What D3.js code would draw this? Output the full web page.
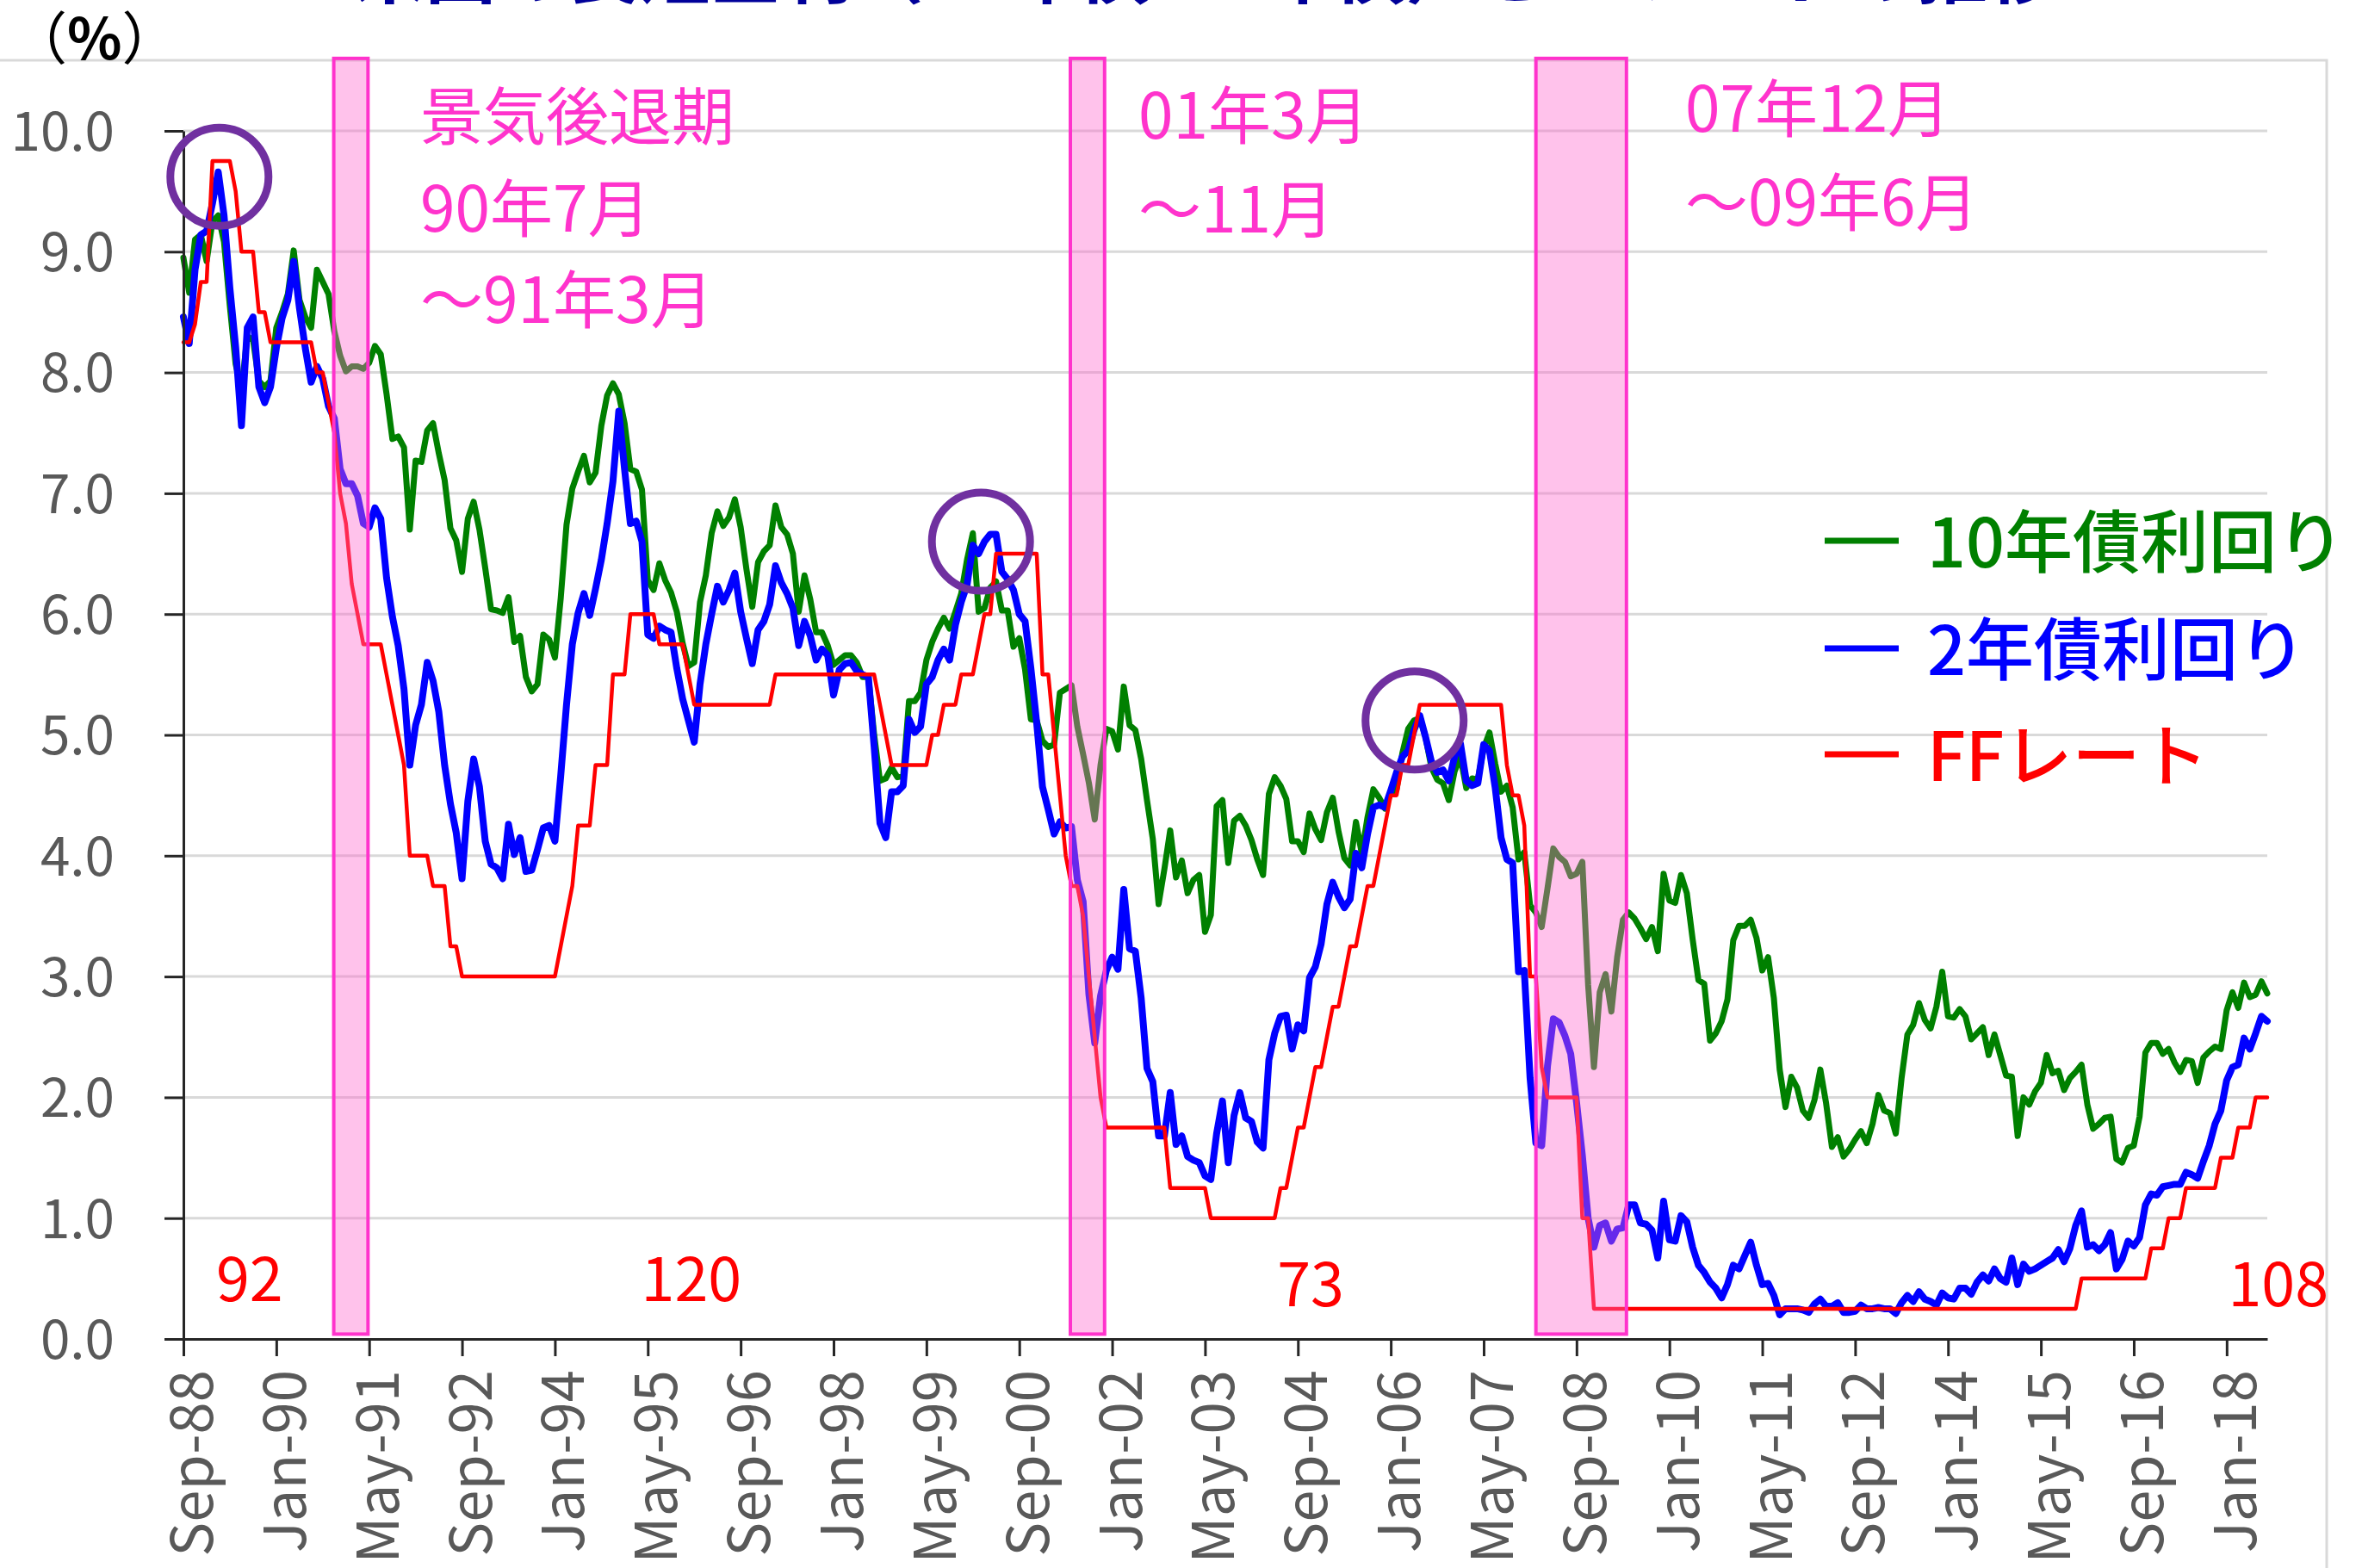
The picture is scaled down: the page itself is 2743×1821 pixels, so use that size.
<!DOCTYPE html>
<html lang="ja">
<head>
<meta charset="utf-8">
<title>米国の長短金利とFFレートの推移</title>
<script src="https://cdn.jsdelivr.net/npm/d3@7"></script>
<style>
    body { margin: 0; background: #fff; }
    svg { display: block; font-family: "Noto Sans CJK JP", "Noto Sans", sans-serif; }
    .grid line { stroke: #d9d9d9; stroke-width: 3; }
    .axis path, .axis line { stroke: #262626; stroke-width: 3; }
    .axis text { fill: #595959; font-family: "Noto Sans CJK JP", sans-serif; }
</style>
</head>
<body>
<script>
// monthly data, first point = Sep-88, last point = Aug-18
var tenYear = [
    8.95, 8.66, 9.10, 9.14, 8.92, 9.25, 9.30, 9.08, 8.55, 8.07, 7.85, 8.30,
    8.27, 7.93, 7.88, 7.93, 8.37, 8.50, 8.65, 9.01, 8.60, 8.46, 8.37, 8.85,
    8.75, 8.65, 8.34, 8.14, 8.01, 8.05, 8.05, 8.03, 8.08, 8.22, 8.15, 7.82,
    7.45, 7.47, 7.38, 6.70, 7.27, 7.26, 7.52, 7.58, 7.33, 7.11, 6.71, 6.61,
    6.35, 6.79, 6.93, 6.70, 6.38, 6.04, 6.03, 6.01, 6.14, 5.77, 5.82, 5.48,
    5.36, 5.42, 5.83, 5.79, 5.64, 6.13, 6.74, 7.04, 7.18, 7.31, 7.09, 7.17,
    7.56, 7.81, 7.91, 7.82, 7.58, 7.20, 7.18, 7.03, 6.28, 6.20, 6.42, 6.28,
    6.18, 6.02, 5.76, 5.57, 5.60, 6.10, 6.32, 6.67, 6.85, 6.73, 6.80, 6.95,
    6.72, 6.37, 6.06, 6.43, 6.52, 6.57, 6.90, 6.72, 6.66, 6.50, 6.02, 6.32,
    6.12, 5.85, 5.85, 5.74, 5.58, 5.62, 5.66, 5.66, 5.60, 5.48, 5.48, 5.00,
    4.62, 4.64, 4.73, 4.65, 4.66, 5.28, 5.28, 5.35, 5.62, 5.77, 5.88, 5.97,
    5.88, 6.02, 6.17, 6.45, 6.67, 6.02, 6.05, 6.22, 6.27, 6.03, 6.03, 5.73,
    5.80, 5.54, 5.13, 5.12, 4.95, 4.90, 4.92, 5.35, 5.38, 5.41, 5.07, 4.84,
    4.60, 4.30, 4.75, 5.05, 5.03, 4.88, 5.40, 5.08, 5.04, 4.80, 4.46, 4.14,
    3.60, 3.89, 4.21, 3.82, 3.96, 3.69, 3.80, 3.84, 3.37, 3.51, 4.41, 4.46,
    3.94, 4.29, 4.33, 4.25, 4.13, 3.97, 3.84, 4.51, 4.65, 4.58, 4.47, 4.12,
    4.12, 4.03, 4.35, 4.22, 4.13, 4.36, 4.48, 4.20, 3.98, 3.92, 4.28, 4.02,
    4.32, 4.55, 4.48, 4.39, 4.52, 4.55, 4.85, 5.05, 5.12, 5.14, 4.98, 4.73,
    4.63, 4.60, 4.46, 4.70, 4.82, 4.56, 4.64, 4.63, 4.89, 5.02, 4.76, 4.53,
    4.58, 4.40, 3.97, 4.03, 3.59, 3.53, 3.41, 3.73, 4.06, 3.99, 3.95, 3.83,
    3.85, 3.95, 2.93, 2.25, 2.87, 3.02, 2.71, 3.16, 3.47, 3.53, 3.48, 3.40,
    3.31, 3.41, 3.21, 3.85, 3.63, 3.61, 3.84, 3.69, 3.31, 2.97, 2.94, 2.47,
    2.53, 2.63, 2.81, 3.30, 3.42, 3.42, 3.47, 3.32, 3.05, 3.16, 2.82, 2.23,
    1.92, 2.17, 2.08, 1.89, 1.83, 1.98, 2.23, 1.95, 1.59, 1.67, 1.51, 1.57,
    1.65, 1.72, 1.62, 1.78, 2.02, 1.89, 1.87, 1.70, 2.16, 2.52, 2.60, 2.78,
    2.64, 2.57, 2.75, 3.04, 2.67, 2.66, 2.73, 2.67, 2.48, 2.53, 2.58, 2.35,
    2.52, 2.35, 2.18, 2.17, 1.68, 2.00, 1.94, 2.05, 2.12, 2.35, 2.20, 2.22,
    2.06, 2.16, 2.21, 2.27, 1.94, 1.74, 1.78, 1.83, 1.84, 1.49, 1.46, 1.58,
    1.60, 1.84, 2.37, 2.45, 2.45, 2.36, 2.40, 2.29, 2.21, 2.31, 2.30, 2.12,
    2.33, 2.38, 2.42, 2.40, 2.72, 2.87, 2.74, 2.95, 2.83, 2.85, 2.96, 2.86
];

var twoYear = [
    8.46, 8.24, 8.85, 9.14, 9.17, 9.40, 9.66, 9.30, 8.70, 8.21, 7.56, 8.37,
    8.46, 7.88, 7.75, 7.88, 8.20, 8.45, 8.60, 8.92, 8.53, 8.20, 7.92, 8.05,
    7.95, 7.72, 7.62, 7.20, 7.08, 7.08, 6.98, 6.75, 6.72, 6.88, 6.79, 6.30,
    5.98, 5.74, 5.38, 4.75, 5.08, 5.25, 5.60, 5.45, 5.19, 4.75, 4.43, 4.19,
    3.81, 4.45, 4.80, 4.57, 4.12, 3.93, 3.90, 3.81, 4.26, 4.01, 4.15, 3.87,
    3.88, 4.05, 4.23, 4.25, 4.12, 4.66, 5.25, 5.75, 6.01, 6.17, 5.99, 6.21,
    6.45, 6.75, 7.10, 7.68, 7.20, 6.75, 6.77, 6.60, 5.83, 5.80, 5.90, 5.87,
    5.85, 5.55, 5.30, 5.12, 4.94, 5.42, 5.75, 6.00, 6.23, 6.10, 6.20, 6.34,
    6.02, 5.80, 5.59, 5.87, 5.94, 6.08, 6.40, 6.26, 6.17, 6.05, 5.74, 5.94,
    5.82, 5.62, 5.71, 5.66, 5.33, 5.54, 5.59, 5.60, 5.53, 5.50, 5.48, 4.90,
    4.27, 4.15, 4.53, 4.53, 4.58, 5.13, 5.02, 5.07, 5.42, 5.48, 5.62, 5.71,
    5.62, 5.91, 6.10, 6.24, 6.57, 6.50, 6.60, 6.66, 6.66, 6.35, 6.29, 6.20,
    6.00, 5.94, 5.55, 5.10, 4.57, 4.38, 4.18, 4.28, 4.23, 4.24, 3.80, 3.62,
    2.85, 2.45, 2.84, 3.05, 3.16, 3.06, 3.72, 3.23, 3.21, 2.82, 2.24, 2.13,
    1.68, 1.68, 2.04, 1.61, 1.68, 1.51, 1.48, 1.46, 1.35, 1.32, 1.70, 1.97,
    1.46, 1.85, 2.04, 1.83, 1.80, 1.63, 1.58, 2.31, 2.53, 2.67, 2.68, 2.40,
    2.60, 2.55, 2.99, 3.08, 3.27, 3.60, 3.78, 3.66, 3.57, 3.64, 4.02, 3.90,
    4.18, 4.40, 4.42, 4.40, 4.54, 4.69, 4.82, 4.87, 5.04, 5.16, 4.98, 4.78,
    4.69, 4.71, 4.62, 4.82, 4.93, 4.62, 4.58, 4.60, 4.92, 4.87, 4.56, 4.15,
    3.97, 3.94, 3.04, 3.05, 2.16, 1.62, 1.60, 2.26, 2.65, 2.62, 2.51, 2.36,
    1.96, 1.52, 1.00, 0.76, 0.94, 0.96, 0.81, 0.91, 0.92, 1.11, 1.11, 0.96,
    0.95, 0.90, 0.67, 1.14, 0.82, 0.81, 1.02, 0.97, 0.76, 0.61, 0.55, 0.47,
    0.42, 0.34, 0.45, 0.61, 0.58, 0.69, 0.80, 0.61, 0.45, 0.46, 0.36, 0.20,
    0.25, 0.25, 0.25, 0.24, 0.22, 0.29, 0.33, 0.27, 0.27, 0.30, 0.22, 0.22,
    0.23, 0.28, 0.25, 0.25, 0.26, 0.25, 0.25, 0.21, 0.30, 0.36, 0.31, 0.39,
    0.33, 0.31, 0.28, 0.38, 0.34, 0.33, 0.42, 0.42, 0.37, 0.47, 0.53, 0.48,
    0.58, 0.50, 0.47, 0.67, 0.45, 0.62, 0.56, 0.58, 0.61, 0.64, 0.67, 0.74,
    0.64, 0.75, 0.94, 1.06, 0.76, 0.78, 0.73, 0.78, 0.88, 0.58, 0.66, 0.81,
    0.77, 0.84, 1.11, 1.20, 1.19, 1.26, 1.27, 1.28, 1.28, 1.38, 1.36, 1.33,
    1.47, 1.60, 1.78, 1.89, 2.14, 2.25, 2.27, 2.49, 2.40, 2.53, 2.67, 2.63
];

var ffRate = [
    8.25, 8.25, 8.40, 8.75, 8.75, 9.75, 9.75, 9.75, 9.75, 9.50, 9.00, 9.00,
    9.00, 8.50, 8.50, 8.25, 8.25, 8.25, 8.25, 8.25, 8.25, 8.25, 8.25, 8.00,
    8.00, 7.75, 7.50, 7.00, 6.75, 6.25, 6.00, 5.75, 5.75, 5.75, 5.75, 5.50,
    5.25, 5.00, 4.75, 4.00, 4.00, 4.00, 4.00, 3.75, 3.75, 3.75, 3.25, 3.25,
    3.00, 3.00, 3.00, 3.00, 3.00, 3.00, 3.00, 3.00, 3.00, 3.00, 3.00, 3.00,
    3.00, 3.00, 3.00, 3.00, 3.00, 3.25, 3.50, 3.75, 4.25, 4.25, 4.25, 4.75,
    4.75, 4.75, 5.50, 5.50, 5.50, 6.00, 6.00, 6.00, 6.00, 6.00, 5.75, 5.75,
    5.75, 5.75, 5.75, 5.50, 5.25, 5.25, 5.25, 5.25, 5.25, 5.25, 5.25, 5.25,
    5.25, 5.25, 5.25, 5.25, 5.25, 5.25, 5.50, 5.50, 5.50, 5.50, 5.50, 5.50,
    5.50, 5.50, 5.50, 5.50, 5.50, 5.50, 5.50, 5.50, 5.50, 5.50, 5.50, 5.50,
    5.25, 5.00, 4.75, 4.75, 4.75, 4.75, 4.75, 4.75, 4.75, 5.00, 5.00, 5.25,
    5.25, 5.25, 5.50, 5.50, 5.50, 5.75, 6.00, 6.00, 6.50, 6.50, 6.50, 6.50,
    6.50, 6.50, 6.50, 6.50, 5.50, 5.50, 5.00, 4.50, 4.00, 3.75, 3.75, 3.50,
    3.00, 2.50, 2.00, 1.75, 1.75, 1.75, 1.75, 1.75, 1.75, 1.75, 1.75, 1.75,
    1.75, 1.75, 1.25, 1.25, 1.25, 1.25, 1.25, 1.25, 1.25, 1.00, 1.00, 1.00,
    1.00, 1.00, 1.00, 1.00, 1.00, 1.00, 1.00, 1.00, 1.00, 1.25, 1.25, 1.50,
    1.75, 1.75, 2.00, 2.25, 2.25, 2.50, 2.75, 2.75, 3.00, 3.25, 3.25, 3.50,
    3.75, 3.75, 4.00, 4.25, 4.50, 4.50, 4.75, 4.75, 5.00, 5.25, 5.25, 5.25,
    5.25, 5.25, 5.25, 5.25, 5.25, 5.25, 5.25, 5.25, 5.25, 5.25, 5.25, 5.25,
    4.75, 4.50, 4.50, 4.25, 3.00, 3.00, 2.25, 2.00, 2.00, 2.00, 2.00, 2.00,
    2.00, 1.00, 1.00, 0.25, 0.25, 0.25, 0.25, 0.25, 0.25, 0.25, 0.25, 0.25,
    0.25, 0.25, 0.25, 0.25, 0.25, 0.25, 0.25, 0.25, 0.25, 0.25, 0.25, 0.25,
    0.25, 0.25, 0.25, 0.25, 0.25, 0.25, 0.25, 0.25, 0.25, 0.25, 0.25, 0.25,
    0.25, 0.25, 0.25, 0.25, 0.25, 0.25, 0.25, 0.25, 0.25, 0.25, 0.25, 0.25,
    0.25, 0.25, 0.25, 0.25, 0.25, 0.25, 0.25, 0.25, 0.25, 0.25, 0.25, 0.25,
    0.25, 0.25, 0.25, 0.25, 0.25, 0.25, 0.25, 0.25, 0.25, 0.25, 0.25, 0.25,
    0.25, 0.25, 0.25, 0.25, 0.25, 0.25, 0.25, 0.25, 0.25, 0.25, 0.25, 0.25,
    0.25, 0.25, 0.25, 0.50, 0.50, 0.50, 0.50, 0.50, 0.50, 0.50, 0.50, 0.50,
    0.50, 0.50, 0.50, 0.75, 0.75, 0.75, 1.00, 1.00, 1.00, 1.25, 1.25, 1.25,
    1.25, 1.25, 1.25, 1.50, 1.50, 1.50, 1.75, 1.75, 1.75, 2.00, 2.00, 2.00
];

// x axis: one label every 16 months (month offsets from Sep-88)
var tickMonths = [0, 16, 32, 48, 64, 80, 96, 112, 128, 144, 160, 176, 192, 208, 224, 240, 256, 272, 288, 304, 320, 336, 352];
var tickLabels = ["Sep-88", "Jan-90", "May-91", "Sep-92", "Jan-94", "May-95", "Sep-96", "Jan-98", "May-99", "Sep-00",
    "Jan-02", "May-03", "Sep-04", "Jan-06", "May-07", "Sep-08", "Jan-10", "May-11", "Sep-12", "Jan-14",
    "May-15", "Sep-16", "Jan-18"];
var yTicks = [0, 1, 2, 3, 4, 5, 6, 7, 8, 9, 10];

// recession shading (month offsets, as drawn) and their notes
var bandFrom = [25.9, 152.8, 233.0];
var bandTo = [31.8, 158.7, 248.6];
var bandNotes = [["景気後退期", "90年7月", "～91年3月"], ["01年3月", "～11月"], ["07年12月", "～09年6月"]];

// expansion lengths in months, and where the note sits
var expansionText = ["92", "120", "73", "108"];
var expansionMonth = [11.4, 87.5, 194.2, 360.9];
var expansionValue = [0.53, 0.53, 0.49, 0.49];

// rate peaks circled on the chart
var peakMonth = [6.2, 137.4, 212.1];
var peakValue = [9.62, 6.60, 5.12];

var seriesNames = ["10年債利回り", "2年債利回り", "FFレート"];
var seriesColors = ["#008000", "#0000ff", "#ff0000"];
var seriesWidths = [7, 8, 4.5];
var seriesData = [tenYear, twoYear, ffRate];

var w = 2743, h = 1821;
var plotLeft = 213, plotRight = 2633, plotTop = 152, plotBottom = 1555;

var x = d3.scaleLinear().domain([0, tenYear.length - 1]).range([plotLeft, plotRight]);
var y = d3.scaleLinear().domain([0, 10]).range([plotBottom, plotTop]);

var svg = d3.select("body").append("svg")
    .attr("width", w).attr("height", h);

svg.append("rect").attr("width", w).attr("height", h).attr("fill", "#fff");

// title (mostly above the visible area, as in the source)
var titleText = "米国の長短金利（10年債・2年債）とFFレートの推移";
var title = svg.append("text")
    .attr("x", 411).attr("y", 10)
    .style("font-size", "100px").style("font-weight", "bold")
    .attr("fill", "#000099")
    .text(titleText);
var tlen = title.node().getComputedTextLength();
var tfs = 100 * 1980 / tlen;
title.style("font-size", tfs + "px").attr("y", 5 - 0.1 * tfs);

// chart area border
svg.append("rect")
    .attr("x", -3).attr("y", 70).attr("width", 2705).attr("height", 1800)
    .attr("fill", "none").attr("stroke", "#d9d9d9").attr("stroke-width", 3);

// gridlines
svg.append("g").attr("class", "grid")
    .selectAll("line")
    .data(yTicks.slice(1))
    .enter()
    .append("line")
    .attr("x1", plotLeft).attr("x2", plotRight)
    .attr("y1", d => y(d)).attr("y2", d => y(d));

// series lines
var line = d3.line()
    .x((d, i) => x(i))
    .y(d => y(d));

svg.append("g")
    .selectAll("path")
    .data(seriesData)
    .enter()
    .append("path")
    .attr("d", line)
    .attr("fill", "none")
    .attr("stroke", (d, i) => seriesColors[i])
    .attr("stroke-width", (d, i) => seriesWidths[i])
    .attr("stroke-linejoin", "round")
    .attr("stroke-linecap", "round");

// y axis
var yAxis = svg.append("g").attr("class", "axis")
    .attr("transform", "translate(" + plotLeft + ",0)")
    .call(d3.axisLeft(y).tickValues(yTicks).tickFormat(d3.format(".1f")).tickSize(22).tickSizeOuter(0).tickPadding(58));
yAxis.selectAll("text").attr("dy", "0.36em").style("font-size", "62px");

// x axis
var xAxis = svg.append("g").attr("class", "axis")
    .attr("transform", "translate(0," + plotBottom + ")")
    .call(d3.axisBottom(x).tickValues(tickMonths).tickFormat((d, i) => tickLabels[i]).tickSize(20).tickSizeOuter(0));
xAxis.selectAll("text")
    .attr("transform", "rotate(-90)")
    .attr("x", -36).attr("y", 0).attr("dy", "0.5em")
    .style("text-anchor", "end")
    .style("font-size", "67px");

// recession bands drawn over the lines
svg.append("g")
    .selectAll("rect")
    .data(bandFrom)
    .enter()
    .append("rect")
    .attr("x", (d, i) => x(bandFrom[i]))
    .attr("width", (d, i) => x(bandTo[i]) - x(bandFrom[i]))
    .attr("y", y(10.6))
    .attr("height", y(0.04) - y(10.6))
    .attr("fill", "#ff66cc").attr("fill-opacity", 0.4)
    .attr("stroke", "#ff33cc").attr("stroke-width", 4);

// circles on the peaks
svg.append("g")
    .selectAll("circle")
    .data(peakMonth)
    .enter()
    .append("circle")
    .attr("cx", (d, i) => x(peakMonth[i]))
    .attr("cy", (d, i) => y(peakValue[i]))
    .attr("r", 57)
    .attr("fill", "none")
    .attr("stroke", "#7030a0").attr("stroke-width", 9);

// recession notes
var notePos = [[488, [130, 237, 343]], [1322, [129, 238]], [1957, [121, 230]]];
bandNotes.forEach(function (lines, k) {
    lines.forEach(function (t, j) {
        svg.append("text")
            .attr("x", notePos[k][0]).attr("y", notePos[k][1][j])
            .attr("dominant-baseline", "central")
            .attr("fill", "#ff33cc")
            .style("font-size", "73px")
            .text(t);
    });
});

// expansion lengths
svg.append("g")
    .selectAll("text")
    .data(expansionText)
    .enter()
    .append("text")
    .attr("x", (d, i) => x(expansionMonth[i]))
    .attr("y", (d, i) => y(expansionValue[i]))
    .attr("text-anchor", "middle")
    .attr("dominant-baseline", "central")
    .attr("fill", "#ff0000")
    .style("font-size", "70px")
    .text(d => d);

// legend
var legendY = [628, 753, 876];
var legend = svg.append("g")
    .selectAll("g")
    .data(seriesNames)
    .enter()
    .append("g");
legend.append("line")
    .attr("x1", 2119).attr("x2", 2205)
    .attr("y1", (d, i) => legendY[i]).attr("y2", (d, i) => legendY[i])
    .attr("stroke", (d, i) => seriesColors[i]).attr("stroke-width", 7);
legend.append("text")
    .attr("x", 2238).attr("y", (d, i) => legendY[i] - 4)
    .attr("dominant-baseline", "central")
    .attr("fill", (d, i) => seriesColors[i])
    .style("font-size", "79px")
    .style("font-weight", "500")
    .text(d => d);

// unit label
var unit = svg.append("text")
    .attr("x", 12).attr("y", 40)
    .attr("dominant-baseline", "central")
    .style("font-size", "66px")
    .attr("fill", "#000");
unit.append("tspan").text("（");
unit.append("tspan").style("font-weight", "bold").text("%");
unit.append("tspan").text("）");
</script>
</body>
</html>
